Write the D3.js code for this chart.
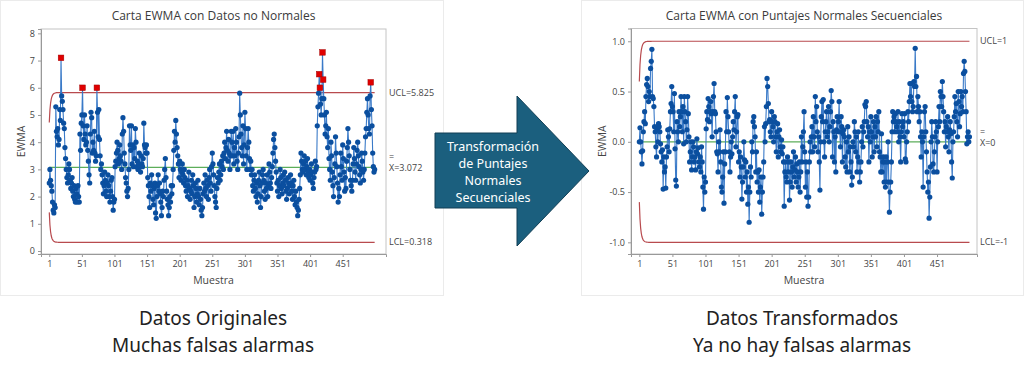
<!DOCTYPE html>
<html lang="es">
<head>
<meta charset="UTF-8">
<title>Carta EWMA</title>
<script src="https://cdn.jsdelivr.net/npm/d3@7"></script>
<style>
  html, body { margin: 0; padding: 0; background: #fff; }
  svg { display: block; font-family: "Open Sans", "Noto Sans", sans-serif; }
</style>
</head>
<body>
<script>
  // EWMA de los datos originales (no normales), muestras 1..500
  const ewmaOrig = [
    2.5,3.0,2.6,2.4,2.2,1.8,1.5,1.4,1.7,1.6,
    5.3,4.4,4.2,4.5,3.9,4.1,5.2,4.8,7.1,5.7,
    5.5,5.2,4.7,4.5,3.8,3.4,3.0,2.7,2.5,2.8,
    3.2,3.0,2.6,2.3,2.5,2.7,2.2,2.0,2.4,1.9,
    1.8,2.3,2.1,1.8,2.4,2.0,1.8,4.3,3.7,4.7,
    5.0,6.0,4.6,4.1,5.0,4.3,3.9,4.0,4.6,3.7,
    3.3,2.8,2.5,4.3,5.1,4.9,3.6,4.0,3.7,4.4,
    3.6,3.3,3.5,6.0,5.1,4.2,5.2,4.1,3.5,3.0,
    3.2,2.8,2.5,2.1,2.4,2.9,2.6,2.2,2.0,2.5,
    2.8,2.4,2.0,1.8,2.2,2.6,2.7,2.0,1.5,1.8,
    1.9,3.1,3.3,3.6,4.0,3.7,3.2,3.4,3.9,3.5,
    3.3,3.0,4.3,4.9,4.4,3.6,3.2,2.7,2.5,2.2,
    2.0,2.3,3.0,4.6,3.9,3.7,4.6,3.2,3.9,3.1,
    3.8,3.4,4.5,4.0,3.1,3.3,3.0,3.2,3.6,3.1,
    2.9,3.5,3.2,3.1,3.4,4.7,3.9,3.8,3.6,3.9,
    3.6,2.7,2.4,2.0,1.6,2.5,2.2,2.8,2.4,1.9,
    1.7,2.3,2.5,1.4,1.2,2.0,2.4,2.8,2.2,2.5,
    2.1,1.8,1.3,1.6,2.2,2.0,2.6,3.0,3.4,2.7,
    2.2,1.9,1.7,1.3,1.6,2.0,1.8,2.4,2.1,2.4,
    3.0,3.7,4.4,4.0,4.8,4.3,3.8,3.5,3.2,2.7,
    3.3,3.0,2.6,2.9,3.2,2.8,2.5,3.0,2.7,2.4,
    2.2,2.6,2.0,2.4,2.9,2.3,1.9,2.2,2.6,2.1,
    2.8,2.4,1.6,2.0,2.5,2.3,1.8,2.1,2.6,2.0,
    1.7,2.3,1.9,1.5,1.3,1.6,2.1,2.5,2.2,2.8,
    2.3,2.0,2.6,2.4,1.9,2.7,3.0,2.5,2.2,3.1,
    3.6,3.2,2.8,2.4,2.0,1.8,1.6,2.3,2.7,2.5,
    2.9,3.2,2.6,2.8,3.3,3.1,3.5,3.0,3.6,4.0,
    3.4,3.8,4.4,3.7,3.3,4.1,3.6,3.0,3.5,4.4,
    4.0,3.5,4.4,3.2,3.8,3.5,4.5,4.0,3.3,3.0,
    3.6,4.2,5.8,5.0,4.3,3.8,3.5,4.6,3.2,3.9,
    5.1,4.5,3.5,3.0,3.8,4.5,4.0,3.4,3.0,3.3,
    2.8,3.0,2.4,2.2,2.6,2.8,2.3,2.0,2.5,1.8,
    2.1,2.6,2.9,2.4,1.6,2.0,2.5,2.8,3.0,2.6,
    2.2,1.9,2.5,2.3,2.8,2.0,2.4,3.2,2.9,2.5,
    2.3,2.7,3.1,3.6,4.1,4.3,3.8,3.3,2.9,2.5,
    2.2,2.6,2.0,2.4,3.0,2.7,2.3,2.1,2.5,2.8,
    2.4,2.9,2.6,2.2,1.9,2.3,2.7,2.5,2.1,2.4,
    2.8,2.5,2.2,1.9,2.4,2.6,2.0,1.7,2.2,1.8,
    1.6,1.3,1.5,1.9,2.3,2.8,3.6,3.3,3.0,2.9,
    3.2,3.5,3.0,3.3,2.8,3.1,3.4,2.9,2.7,3.0,
    2.6,2.8,3.2,2.9,2.5,2.3,2.7,2.9,3.3,3.0,
    3.1,4.6,5.3,5.8,6.5,6.0,5.4,5.0,5.6,7.3,
    6.3,5.6,5.0,4.3,4.6,5.1,4.2,3.8,4.5,3.4,
    3.0,2.6,4.0,3.5,2.9,2.4,2.0,2.7,3.2,4.2,
    3.6,3.1,2.5,1.8,2.3,2.0,2.8,3.6,3.1,2.6,
    3.9,3.4,2.9,2.2,2.7,2.3,3.3,3.8,4.5,4.0,
    3.5,3.0,2.6,2.4,2.2,2.6,3.2,3.8,3.4,2.9,
    2.6,3.2,3.7,4.0,3.5,3.1,2.8,2.5,3.0,3.6,
    3.3,2.9,2.6,3.0,3.6,4.2,4.5,5.1,5.6,5.0,
    4.5,4.3,5.7,6.2,5.2,4.6,3.6,3.1,2.9,3.0
  ];

  // EWMA de los puntajes normales secuenciales, muestras 1..500
  const ewmaNss = [
    0.00,0.14,0.00,-0.10,-0.22,-0.09,0.10,0.20,0.30,0.18,
    0.45,0.57,0.63,0.55,0.40,0.50,0.45,0.73,0.80,0.92,
    0.45,0.43,0.35,0.15,0.10,-0.05,-0.15,0.12,0.00,0.18,
    0.15,0.10,-0.02,-0.10,-0.20,-0.08,-0.47,-0.15,-0.30,-0.25,
    -0.46,-0.15,-0.05,0.12,0.05,-0.10,0.13,0.30,0.38,0.55,
    0.35,0.30,0.10,0.48,-0.07,-0.38,-0.44,0.20,0.10,0.00,
    0.30,0.15,0.25,0.45,0.30,0.10,0.35,-0.02,0.45,0.30,
    0.20,0.00,0.12,0.45,0.28,0.05,-0.20,-0.10,0.00,-0.28,
    -0.15,0.00,-0.05,-0.20,-0.15,-0.28,-0.10,0.03,-0.12,-0.06,
    -0.20,-0.25,-0.15,-0.30,-0.05,-0.20,-0.45,-0.67,-0.35,-0.50,
    -0.40,0.13,0.30,0.22,0.43,0.35,0.20,0.30,0.40,0.28,
    0.05,0.30,0.45,0.58,0.30,0.28,0.10,-0.10,-0.12,-0.30,
    0.00,-0.10,0.12,-0.20,-0.45,-0.50,-0.35,-0.10,-0.61,-0.22,
    -0.10,0.30,0.10,0.44,0.25,0.10,-0.10,-0.30,-0.15,0.00,
    -0.12,0.05,0.20,0.12,0.30,0.45,-0.05,0.10,0.25,0.27,
    -0.20,-0.10,-0.35,-0.15,-0.25,-0.57,-0.40,-0.25,0.00,-0.18,
    -0.35,-0.20,-0.50,-0.30,-0.62,-0.45,-0.80,-0.50,-0.25,-0.35,
    0.00,-0.10,0.20,0.25,0.15,0.05,-0.30,-0.10,-0.40,-0.30,
    -0.50,-0.28,-0.60,-0.45,-0.35,-0.72,-0.50,-0.35,-0.20,0.15,
    0.00,0.18,0.35,0.63,0.55,0.38,0.20,0.22,0.10,0.05,
    0.30,0.20,0.15,0.00,0.25,0.20,0.05,-0.10,0.10,0.18,
    -0.15,0.05,0.12,-0.05,-0.10,0.02,-0.12,-0.05,-0.20,-0.64,
    -0.30,-0.20,-0.35,-0.40,-0.15,-0.30,-0.20,-0.58,-0.40,-0.20,
    -0.30,-0.45,-0.25,-0.10,-0.35,-0.28,-0.15,-0.40,-0.22,-0.30,
    -0.45,-0.35,-0.20,-0.50,-0.30,0.05,-0.20,-0.05,0.10,0.30,
    -0.10,-0.45,-0.20,-0.55,-0.30,-0.64,-0.55,-0.20,0.00,-0.10,
    0.05,0.15,-0.10,0.25,0.05,-0.05,0.45,0.20,0.35,0.10,
    -0.10,0.05,-0.20,-0.48,0.00,0.25,0.40,0.20,0.42,0.00,
    -0.15,0.10,0.20,0.30,0.05,0.10,0.35,0.00,0.15,0.30,
    0.51,0.40,-0.15,0.20,0.10,-0.20,0.05,-0.30,0.12,0.25,
    0.10,0.20,0.40,0.10,-0.05,0.25,0.15,-0.20,0.08,0.12,
    0.05,-0.15,-0.25,0.00,-0.30,0.15,-0.10,0.05,-0.30,-0.05,
    -0.20,-0.43,-0.35,0.00,-0.05,0.20,0.10,-0.10,0.05,-0.30,
    -0.15,0.10,-0.20,-0.40,-0.30,-0.20,0.00,0.15,-0.05,0.10,
    0.20,0.37,0.35,0.40,0.20,0.05,0.15,-0.20,0.10,0.00,
    0.25,0.10,-0.15,0.05,0.20,-0.10,0.15,0.05,0.25,-0.05,
    0.20,0.10,0.30,-0.10,-0.15,-0.30,0.08,-0.30,-0.20,-0.15,
    -0.40,-0.20,-0.45,-0.15,-0.40,-0.20,0.00,-0.40,-0.70,-0.50,
    -0.40,-0.20,0.10,0.30,0.20,0.25,0.10,0.28,0.20,0.15,
    0.10,0.30,0.00,0.20,0.05,-0.20,0.10,0.28,0.15,0.20,
    0.05,0.28,-0.17,-0.20,0.00,0.10,0.30,0.20,0.40,0.58,
    0.45,0.58,0.40,0.30,0.35,0.60,0.55,0.93,0.55,0.65,
    0.30,0.45,0.35,0.20,0.30,0.05,-0.15,0.10,0.00,-0.45,
    0.05,0.30,0.35,0.10,-0.10,-0.30,-0.50,-0.40,-0.76,-0.55,
    -0.25,0.00,0.20,0.05,-0.22,-0.30,-0.10,0.05,0.20,0.10,
    -0.30,0.00,0.15,0.35,0.20,0.50,0.45,0.35,0.60,0.45,
    0.30,0.10,0.20,-0.05,0.15,0.10,0.25,0.05,-0.10,0.12,
    0.20,0.08,-0.20,-0.36,0.00,0.10,0.25,0.45,0.30,0.38,
    0.20,0.05,0.50,0.40,0.15,0.28,0.50,0.35,0.45,0.30,
    0.68,0.80,0.70,0.50,0.30,-0.02,0.05,0.10,0.00,0.05
  ];

  const xTicks = [1, 51, 101, 151, 201, 251, 301, 351, 401, 451];
  const yTicksOrig = [0, 1, 2, 3, 4, 5, 6, 7, 8];
  const yTicksNss = [-1.0, -0.5, 0.0, 0.5, 1.0];

  // limites de control (lambda = 0.2)
  const lambda = 0.2;
  const limitsOrig = { cl: 3.072, ucl: 5.825, lcl: 0.318, labels: ['UCL=5.825', 'X=3.072', 'LCL=0.318'] };
  const limitsNss = { cl: 0, ucl: 1, lcl: -1, labels: ['UCL=1', 'X=0', 'LCL=-1'] };

  const captionsOrig = ['Datos Originales', 'Muchas falsas alarmas'];
  const captionsNss = ['Datos Transformados', 'Ya no hay falsas alarmas'];
  const arrowText = ['Transformación', 'de Puntajes', 'Normales', 'Secuenciales'];

  const svg = d3.select('body').append('svg')
    .attr('width', 1024)
    .attr('height', 369);

  // marcos de los paneles
  svg.append('rect')
    .attr('x', 0.5).attr('y', 0.5).attr('width', 443).attr('height', 295)
    .attr('fill', 'none').attr('stroke', '#d6d6d6').attr('stroke-dasharray', '1,1');
  svg.append('rect')
    .attr('x', 581.5).attr('y', 0.5).attr('width', 442).attr('height', 295)
    .attr('fill', 'none').attr('stroke', '#d6d6d6').attr('stroke-dasharray', '1,1');

  function drawPanel(cfg) {
    const g = svg.append('g');
    const data = cfg.values.map((v, i) => ({ s: i + 1, v: v }));
    const lim = cfg.limits;
    const halfW = lim.ucl - lim.cl;

    const x = d3.scaleLinear().domain(cfg.xDomain).range([cfg.left, cfg.right]);
    const y = d3.scaleLinear().domain(cfg.yDomain).range([cfg.bottom, cfg.top]);

    // EWMA limits widen from the first sample
    const limitAt = (s) => halfW * Math.sqrt(1 - Math.pow(1 - lambda, 2 * s));
    data.forEach(d => {
      d.ucl = lim.cl + limitAt(d.s);
      d.lcl = lim.cl - limitAt(d.s);
    });

    // title
    g.append('text')
      .attr('x', (cfg.left + cfg.right) / 2)
      .attr('y', 20)
      .attr('text-anchor', 'middle')
      .attr('font-size', 12)
      .attr('fill', '#3a3a3a')
      .text(cfg.title);

    // plot frame
    g.append('rect')
      .attr('x', cfg.left).attr('y', cfg.top)
      .attr('width', cfg.right - cfg.left).attr('height', cfg.bottom - cfg.top)
      .attr('fill', '#fff').attr('stroke', '#c4c4c4');

    // axes
    const yAxis = d3.axisLeft(y).tickValues(cfg.yTicks).tickSize(3).tickPadding(3)
      .tickFormat(cfg.yFormat);
    const xAxis = d3.axisBottom(x).tickValues(xTicks).tickSize(3).tickPadding(4);

    const ya = g.append('g').attr('transform', `translate(${cfg.left},0)`).call(yAxis);
    const xa = g.append('g').attr('transform', `translate(0,${cfg.bottom})`).call(xAxis);
    [ya, xa].forEach(a => {
      a.select('.domain').attr('stroke', '#999');
      a.selectAll('.tick line').attr('stroke', '#999');
      a.selectAll('.tick text').attr('font-size', 9).attr('fill', '#444')
        .attr('font-family', '"Open Sans", sans-serif');
    });

    g.append('text')
      .attr('transform', `translate(${cfg.left - cfg.yLabelGap},${(cfg.top + cfg.bottom) / 2}) rotate(-90)`)
      .attr('text-anchor', 'middle')
      .attr('font-size', 10.5)
      .attr('fill', '#444')
      .text('EWMA');

    g.append('text')
      .attr('x', (cfg.left + cfg.right) / 2)
      .attr('y', cfg.bottom + 30)
      .attr('text-anchor', 'middle')
      .attr('font-size', 10.5)
      .attr('fill', '#444')
      .text('Muestra');

    // center line
    g.append('line')
      .attr('x1', x(1)).attr('x2', x(data.length))
      .attr('y1', y(lim.cl)).attr('y2', y(lim.cl))
      .attr('stroke', '#5cae5a').attr('stroke-width', 1.2);

    // control limits
    ['ucl', 'lcl'].forEach(k => {
      g.append('path')
        .datum(data)
        .attr('fill', 'none')
        .attr('stroke', '#b84a4e')
        .attr('stroke-width', 1.2)
        .attr('d', d3.line().x(d => x(d.s)).y(d => y(d[k])));
    });

    // series line
    g.append('path')
      .datum(data)
      .attr('fill', 'none')
      .attr('stroke', '#3a7ac8')
      .attr('stroke-width', 1.1)
      .attr('d', d3.line().x(d => x(d.s)).y(d => y(d.v)));

    const inControl = data.filter(d => d.v <= d.ucl && d.v >= d.lcl);
    const outControl = data.filter(d => d.v > d.ucl || d.v < d.lcl);

    g.append('g').selectAll('circle')
      .data(inControl)
      .join('circle')
      .attr('cx', d => x(d.s))
      .attr('cy', d => y(d.v))
      .attr('r', 2.6)
      .attr('fill', '#0b4f9f');

    g.append('g').selectAll('rect')
      .data(outControl)
      .join('rect')
      .attr('x', d => x(d.s) - 2.8)
      .attr('y', d => y(d.v) - 2.8)
      .attr('width', 5.6)
      .attr('height', 5.6)
      .attr('fill', '#e00000')
      .attr('stroke', '#a30000')
      .attr('stroke-width', 0.5);

    // limit labels
    const lx = cfg.right + 3;
    const lab = g.append('g').attr('font-size', 9).attr('fill', '#444');
    lab.append('text').attr('x', lx).attr('y', y(lim.ucl) + 3).text(lim.labels[0]);
    lab.append('text').attr('x', lx).attr('y', y(lim.cl) - 7).text('=');
    lab.append('text').attr('x', lx).attr('y', y(lim.cl) + 4).text(lim.labels[1]);
    lab.append('text').attr('x', lx).attr('y', y(lim.lcl) + 3).text(lim.labels[2]);

    // captions below the panel
    cfg.captions.forEach((c, i) => {
      svg.append('text')
        .attr('x', cfg.captionX)
        .attr('y', 325 + i * 27)
        .attr('text-anchor', 'middle')
        .attr('font-size', 19)
        .attr('fill', '#222')
        .attr('font-family', '"Noto Sans", sans-serif')
        .text(c);
    });
  }

  drawPanel({
    title: 'Carta EWMA con Datos no Normales',
    values: ewmaOrig,
    limits: limitsOrig,
    left: 41, right: 386, top: 29, bottom: 254,
    xDomain: [-11.7, 517.4],
    yDomain: [-0.11, 8.16],
    yTicks: yTicksOrig,
    yFormat: d3.format('d'),
    yLabelGap: 16,
    captions: captionsOrig,
    captionX: 213
  });

  drawPanel({
    title: 'Carta EWMA con Puntajes Normales Secuenciales',
    values: ewmaNss,
    limits: limitsNss,
    left: 631, right: 977, top: 28.5, bottom: 254,
    xDomain: [-11.6, 511.4],
    yDomain: [-1.116, 1.127],
    yTicks: yTicksNss,
    yFormat: d => d.toFixed(1),
    yLabelGap: 25,
    captions: captionsNss,
    captionX: 802
  });

  // flecha central
  const arrow = [[435, 133], [517, 133], [517, 96], [589, 171], [517, 246], [517, 208], [435, 208]];
  svg.append('path')
    .attr('d', d3.line()(arrow) + 'Z')
    .attr('fill', '#1b5f7e')
    .attr('stroke', '#123f55')
    .attr('stroke-width', 1);

  svg.append('g')
    .selectAll('text')
    .data(arrowText)
    .join('text')
    .attr('x', 493)
    .attr('y', (d, i) => 151 + i * 17)
    .attr('text-anchor', 'middle')
    .attr('font-size', 12.5)
    .attr('fill', '#fff')
    .attr('font-family', '"Noto Sans", sans-serif')
    .text(d => d);
</script>
</body>
</html>
